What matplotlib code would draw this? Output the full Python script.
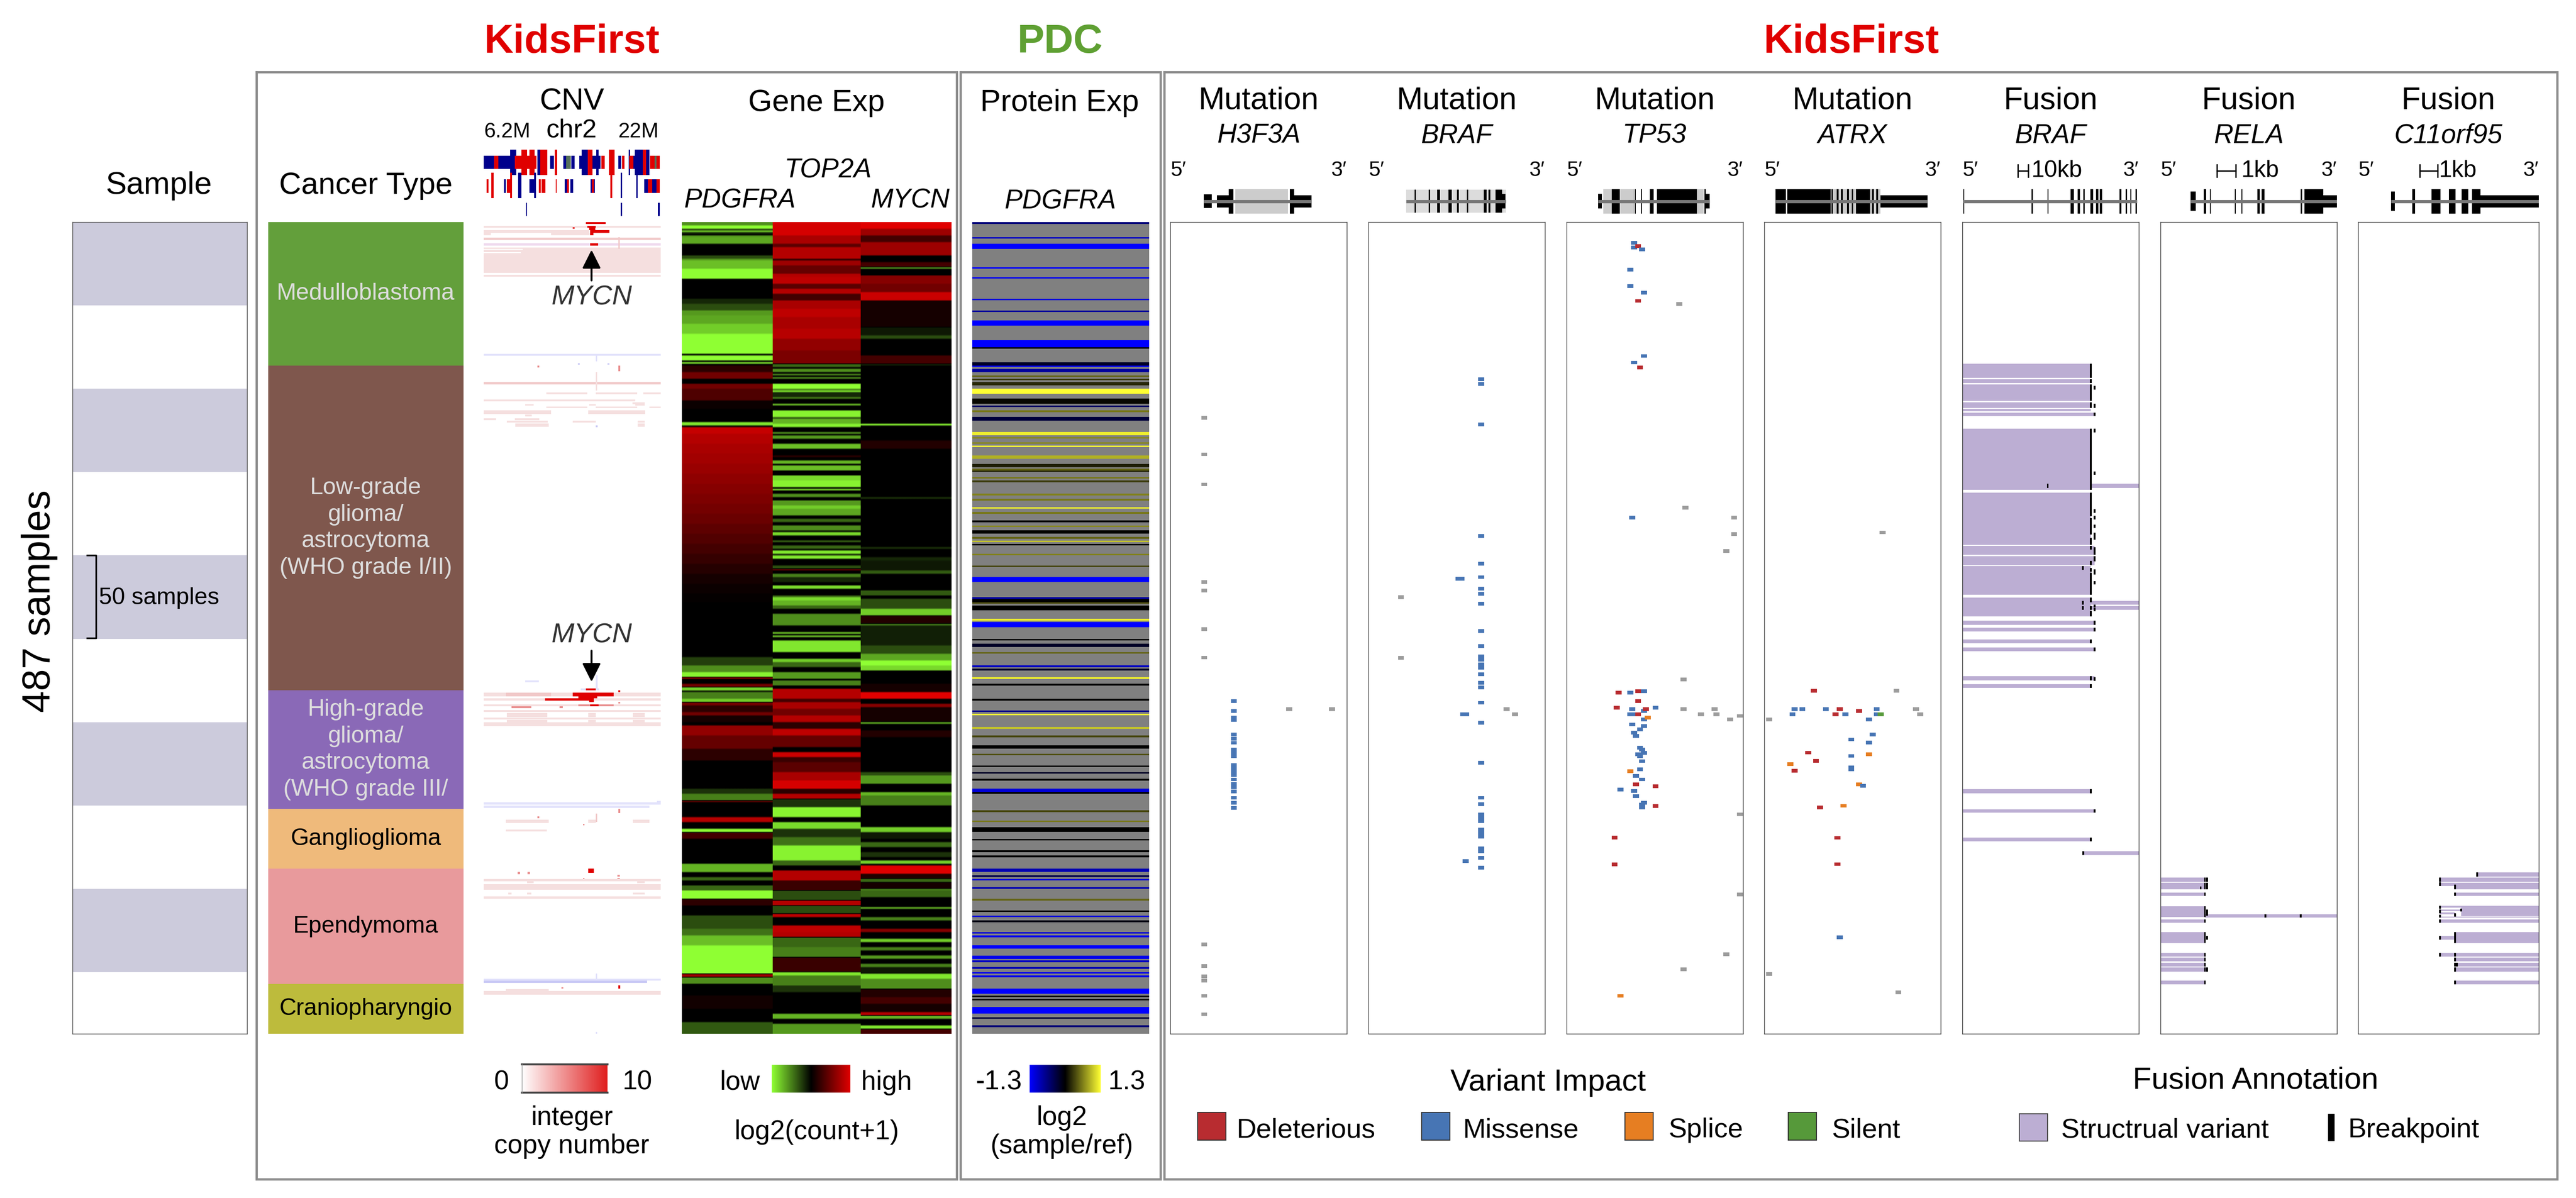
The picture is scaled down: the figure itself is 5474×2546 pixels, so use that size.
import numpy as np
import matplotlib
matplotlib.use('Agg')
import matplotlib.pyplot as plt
from matplotlib.colors import LinearSegmentedColormap

plt.rcParams['font.family'] = ['Liberation Sans', 'DejaVu Sans']

W, H = 5474, 2546
TOP, BOT = 472, 2197
N = 487

# ---- annotation tracks ----
cancer_types = ['Medulloblastoma', 'Low-grade\nglioma/\nastrocytoma\n(WHO grade I/II)',
                'High-grade\nglioma/\nastrocytoma\n(WHO grade III/', 'Ganglioglioma',
                'Ependymoma', 'Craniopharyngio']
cancer_counts = [86, 195, 71, 36, 69, 30]
cancer_colors = ['#639f3b', '#7f574d', '#8a69b7', '#efba7b', '#e89a9c', '#bdbb3c']
cancer_text = ['#dddddd', '#dddddd', '#dddddd', 'black', 'black', 'black']
sample_bands = [0, 100, 200, 300, 400]

# ---- gene expression, runs of (last row, value), -1 green .. 1 red ----
pdgfra_exp = [(2, -.55), (4, -1), (5, -.2), (6, -.8), (7, -.15), (8, 0), (9, -.6), (13, -.65), (20, 0),
              (22, -.3), (23, -.6), (28, -.75), (34, -1), (46, 0), (49, -.15), (53, -.3), (56, -.6), (61, -.65),
              (67, -.8), (79, -1), (80, 0), (83, -1), (84, 0), (85, -.9), (86, 0), (90, .2), (94, .5), (97, 0),
              (100, .5), (107, .35), (112, .05), (120, 0), (122, -.9), (123, 0), (127, .88), (133, .8), (139, .75),
              (145, .72), (151, .68), (157, .64), (163, .6), (169, .56), (175, .52), (181, .47), (187, .42),
              (193, .36), (199, .3), (205, .24), (211, .17), (217, .1), (223, .05), (228, .02), (261, 0),
              (266, -.25), (270, -.55), (273, -.95), (274, .7), (277, 0), (279, .5), (281, -.8), (282, -.1),
              (286, -.5), (288, -.8), (290, .5), (294, .2), (296, .5), (300, .1), (302, 0), (308, .65), (316, .45),
              (323, .2), (340, 0), (343, -.2), (347, -.5), (348, .4), (357, 0), (360, .8), (364, 0), (366, -1),
              (370, .3), (385, 0), (390, -.7), (393, 0), (395, -.4), (398, 0), (401, -.4), (406, -1), (410, .2),
              (416, 0), (424, -.3), (428, -.45), (434, -.75), (451, -1), (453, .7), (457, -.55), (464, 0),
              (472, .08), (480, 0), (487, -.35)]
top2a_exp = [(8, .95), (13, .75), (15, .4), (22, .8), (23, .2), (26, .7), (31, .45), (33, .8), (37, .85), (40, .4),
             (43, .8), (47, .3), (52, .75), (57, .85), (64, .75), (70, .82), (77, .65), (85, .55),
             (87, -.4), (88, 0), (90, -.55), (91, 0), (92, -.5), (93, 0), (94, -.55), (97, 0), (100, -1), (101, -.5),
             (102, -.85), (105, -.15), (106, -.5), (109, 0), (110, -.75), (113, 0), (117, -.95), (118, -.3), (121, -.7),
             (123, -.95), (126, 0), (127, -.6), (128, 0), (130, -.6), (133, 0), (136, -.75), (140, 0), (141, .2),
             (143, 0), (145, -.7), (146, 0), (149, -.75), (152, 0), (155, -.85), (159, -.95), (160, 0), (161, -.8),
             (163, 0), (165, -.55), (167, 0), (170, -.6), (172, -.8), (176, -.65), (178, 0), (180, -.4), (182, 0),
             (185, -.55), (186, 0), (188, -.85), (191, 0), (192, -.4), (194, 0), (196, -.4), (197, 0), (199, -.9),
             (200, -.15), (202, -.9), (206, 0), (208, -.3), (209, .4), (211, 0), (213, -.5), (216, -.15), (218, 0),
             (220, -.85), (224, 0), (225, -.4), (227, -.85), (230, -.7), (232, -.4),
             (235, 0), (242, -.55), (246, 0), (247, -.8), (248, 0), (249, -.8), (251, 0), (258, -.9), (262, 0),
             (264, -.8), (267, -.4), (270, 0), (274, -.6), (275, 0), (278, -.5), (280, 0),
             (286, .8), (288, .3), (292, .75), (296, .5), (300, .8),
             (304, .2), (308, .85), (315, .45), (318, 0), (321, .9), (324, .25), (330, .4), (335, .75), (340, .95),
             (343, .2), (346, .8), (351, -.2), (357, -.95), (360, 0), (364, -.85), (369, -.2), (374, -.45),
             (383, -.95), (386, -.4), (389, 0), (395, .8), (401, .25), (407, -.3), (410, .8), (415, -.3), (417, .85),
             (422, 0), (426, .85), (429, .8), (435, -.4), (441, -.5), (450, .25), (452, -.9), (458, -.5), (462, -.2),
             (475, 0), (478, -.7), (481, 0), (487, -.6)]
mycn_exp = [(4, 1), (8, .7), (12, .3), (20, .7), (24, 0), (27, .3), (28, -.6), (32, 0), (37, .6), (42, .5), (47, .9),
            (63, .1), (68, -.1), (70, -.3), (80, 0), (85, .3), (86, -.15), (121, 0), (122, -1), (131, 0), (136, .15),
            (165, 0), (166, -.2), (195, 0), (196, -.2), (201, 0), (203, -.15), (209, -.1), (211, -.35), (221, 0),
            (224, -.35), (226, 0), (232, -.3), (236, -.8), (241, .15), (242, -.5), (254, -.12), (259, -.3),
            (263, -.65), (266, -1), (269, -.85), (277, 0), (282, .1), (286, 1), (289, 0), (291, .6), (300, .1),
            (301, -.7), (305, 0), (309, .15), (330, 0), (332, -.3), (337, -.6), (342, 0), (344, -.7), (350, -.5),
            (363, 0), (366, -.8), (370, -.1), (372, 0), (375, -.4), (378, 0), (381, -.2), (383, 0), (385, -.8),
            (386, 0), (391, 1), (394, .15), (396, -.4), (400, .1), (401, -.5), (405, -.4), (411, 0), (412, -.7),
            (417, 0), (419, -.5), (424, 0), (426, .6), (430, 0), (432, -.8), (435, 0), (437, -.5), (440, 0),
            (442, -.6), (445, 0), (447, -.5), (451, -.1), (454, -.9), (460, -.55), (465, .15), (469, .3), (474, .1),
            (476, .8), (478, -.7), (482, 0), (484, -.9), (487, .3)]

# ---- protein, stripes (row, rows thick, log2 ratio), all else is not available ----
pdgfra_prot = [(0, 1, -.6), (9, 1, -1), (13, 3, -1.3), (27, 1, -1.3), (33, 1, -1.2), (46, 1, -1.1), (53, 1, -.8),
               (59, 3, -1.3), (71, 4, -1.3), (75, 1, 0), (84, 2, -.2), (86, 1, -1.2), (88, 2, -.8), (92, 1, .5),
               (94, 1, .3), (96, 2, .2), (100, 3, 1.3), (106, 3, .05), (110, 1, -.5), (113, 1, .6), (117, 2, -.3),
               (126, 2, 1.2), (129, 1, .7), (132, 1, .7), (134, 1, 1.3), (140, 2, .9), (145, 2, .15), (148, 1, .5),
               (149, 1, .2), (153, 1, .6), (155, 1, .3), (163, 1, .65), (166, 1, .6), (171, 1, 1.2), (174, 1, .6),
               (179, 1, 0), (182, 1, .7), (185, 2, 0), (189, 1, .5), (191, 1, 1), (193, 1, 0), (199, 1, .65),
               (206, 1, .35), (213, 3, -1.3), (225, 1, -.8), (226, 2, 0), (228, 1, .4), (230, 3, 0), (238, 1, 1.2),
               (240, 3, -1.3), (250, 1, 0), (253, 2, -.2), (258, 1, .5), (266, 1, -1), (268, 1, -.2), (273, 1, 1.2),
               (277, 1, 0), (286, 1, 0), (293, 1, -.7), (295, 1, 1.3), (303, 1, 1), (308, 1, .35), (314, 2, 0),
               (319, 1, .4), (326, 1, 0), (330, 1, -.2), (334, 1, 0), (340, 2, -1.1), (342, 1, 0), (353, 1, .35),
               (359, 1, .6), (363, 3, 0), (370, 1, 0), (377, 1, 0), (380, 1, 0), (388, 2, -.9), (392, 1, -.4),
               (394, 1, -1.1), (399, 1, -.9), (406, 1, .5), (413, 1, 0), (416, 1, -1.1), (419, 1, -.1), (426, 1, -1.1),
               (428, 1, -1.2), (434, 2, -1.3), (440, 2, -1.2), (443, 1, -1), (447, 1, -.9), (450, 1, -1.2),
               (452, 1, -1.2), (460, 3, -1.3), (464, 1, 0), (466, 1, 0), (471, 4, -1.3), (477, 1, -.3), (482, 1, -.6)]

# ---- CNV segments (row, rows thick, start %, end %, level) ----
cnv_colors = {'p': '#f5dfdf', 'd': '#f1c9c9', 'r': '#e00000', 'l': '#e2e2fb', 'm': '#efd9ee', 'w': 'white',
              's': '#e98f8f', 'b': '#c9c9f5'}
cnv_segments = [
    (0, 1, 57.8, 68.8, 'r'), (2.3, 1.2, 0, 100, 'p'), (2.3, 1.2, 58.6, 63.2, 'r'), (3.5, 1.4, 59.5, 63, 'r'),
    (4.9, 1.5, 0, 59.5, 'p'), (4.9, 1.5, 60, 71.1, 'r'), (6.4, 1.4, 0, 4, 'p'), (6.4, 1.4, 38, 60, 'p'),
    (6.4, 1.4, 60, 62, 'r'), (9.4, 1.4, 0, 100, 'd'), (12.8, 1.4, 0, 100, 'm'), (12.8, 1.4, 60, 64.6, 'r'),
    (15.3, 9, 0, 100, 'p'), (16, .7, 0, 22, 'w'), (18, .7, 0, 21, 'w'), (24.3, 6.2, 0, 100, 'p'),
    (31.6, 1.2, 0, 100, 'p'), (9, 7, 76, 76.8, 'd'), (3, 1, 50.2, 51.4, 'r'),
    (79, 1.2, 0, 100, 'l'), (80, 3.5, 63.2, 64, 'l'), (86, 1.3, 30.2, 31.4, 's'), (84.6, 1, 53.3, 54.2, 'b'),
    (84.6, 1, 70, 71, 'b'), (86, 3.5, 76, 77, 's'), (96, 1.5, 0, 100, 'd'), (90, 11, 63.2, 64, 'p'),
    (102.2, 1, 35.3, 58.6, 'p'), (102.2, 1, 63.2, 86.6, 'p'), (102.2, 1, 90.1, 100, 'p'), (106.5, 1, 0, 85.6, 'p'),
    (108, 1.3, 84, 91, 'p'), (109.2, 1, 23.5, 28.2, 'p'), (109.2, 1, 59.5, 63.2, 'p'), (109.2, 1, 85.6, 90.9, 'p'),
    (110.6, 1, 35.3, 58.6, 'p'), (110.6, 1, 63.2, 86.6, 'p'), (110.6, 1, 93.5, 100, 'p'), (113, 2.2, 0, 38, 'p'),
    (113, 2.2, 59.1, 91.2, 'p'), (115.5, 1.2, 23.5, 27, 'p'), (117.8, 1, 0, 7, 'p'), (117.8, 1, 17.5, 31.5, 'p'),
    (119.2, 1.2, 12.9, 36.2, 'p'), (119.2, 1.2, 50.2, 63.2, 'p'), (119.2, 1.2, 87.1, 91, 'p'),
    (120.8, 2, 17.9, 36.8, 'p'), (120.8, 2, 87.1, 90.9, 'p'), (122, 1, 63.4, 64.4, 'b'),
    (275, 1, 23.5, 31.2, 'l'), (272, 8, 63.2, 64.4, 'l'), (279.8, 1.2, 54.9, 65.1, 'l'), (279.8, 1.2, 57.8, 63.2, 'r'),
    (281, 1, 76, 77.2, 'r'), (282.2, 2.4, 0, 100, 'p'), (282.2, 2.4, 12.5, 38, 'd'), (282.2, 2.4, 50.2, 73.5, 'r'),
    (284.7, 1.3, 53.5, 64.2, 'r'), (285.8, 1.2, 0, 100, 'p'), (285.8, 1.2, 34.5, 60, 'r'), (285, 3, 59.5, 62.3, 'r'),
    (288, .9, 76, 77.2, 's'), (289.4, 1.1, 0, 100, 'p'), (289.4, 1.1, 53.5, 73.5, 's'), (289.4, 1.1, 60, 65, 'r'),
    (290.6, 1, 15.7, 26.9, 's'), (290.6, 1, 42.7, 44.6, 's'), (292.8, 1.2, 0, 100, 'p'), (294.5, 2.5, 12.9, 35.8, 'p'),
    (294.5, 2.5, 59.1, 63.2, 'p'), (294.5, 2.5, 84.3, 91, 'p'), (297.2, 1.2, 0, 100, 'p'), (298.6, 1.5, 12.9, 35.8, 'p'),
    (298.6, 1.5, 59.1, 63.2, 'p'), (298.6, 1.5, 84.3, 91, 'p'), (300, 2.3, 0, 100, 'p'),
    (348, 1.4, 0, 100, 'l'), (347.2, 1.4, 98, 100, 'l'), (350.2, 1.2, 0, 93.5, 'l'), (352, 2.5, 76, 77, 's'),
    (358.5, 2, 12.5, 36.8, 'p'), (358.5, 2, 59.1, 63.2, 'p'), (358.5, 2, 84.3, 93.5, 'p'), (355, 5, 63.2, 64, 'd'),
    (364.5, 1, 12.5, 35.6, 'p'), (356.5, 1.2, 30.2, 31.4, 's'), (361, 1, 56, 57, 's'),
    (388, 2.5, 59.1, 62.3, 'r'), (390, 1.2, 19.2, 20.4, 's'), (390, 1.2, 24.8, 26, 's'), (391.5, 1.2, 75.5, 76.8, 's'),
    (393.5, 1.2, 75.5, 76.8, 's'), (393.5, 1, 56, 57, 's'), (394.2, 1.2, 0, 100, 'p'), (395.5, 1.2, 24.6, 28.2, 'p'),
    (395.5, 1.2, 86.6, 91, 'p'), (397.2, 3.5, 0, 100, 'p'), (402.2, 1.2, 13.8, 15.8, 'p'), (402.2, 1.2, 24.6, 26.9, 'p'),
    (402.2, 1.2, 84.3, 91, 'p'), (404.7, 1.2, 0, 100, 'p'),
    (451, 3, 63.2, 64.2, 'l'), (454, 1, 0, 100, 'l'), (455, 1.6, 0, 92.2, 'b'), (458, 1.8, 76, 77, 'r'),
    (459, 1, 44, 45, 's'), (460.2, 1.2, 12.5, 36.8, 'p'), (461.2, 2.5, 0, 100, 'p'), (486, 1, 63.2, 64.2, 'l')]

# chr2 strip above the CNV map (start %, end %, tier top, tier bottom, colour)
chr2_tracks = [
    (0, 5.8, 9, 29, 'B'), (5.8, 8.3, 9, 29, 'R'), (8.3, 15, 9, 29, 'B'), (15, 18.5, 0, 38, 'B'), (17.7, 30, 9, 29, 'R'),
    (21.5, 24.7, 0, 38, 'R'), (26, 29, 0, 38, 'R'), (30.4, 33.7, 0, 38, 'B'), (32, 36, 0, 38, 'R'), (37.7, 39.8, 9, 29, 'B'),
    (40.4, 41.7, 0, 38, 'R'), (45.2, 46.7, 9, 29, 'B'), (46.7, 49.4, 9, 29, 'G'), (49.8, 51.7, 9, 29, 'B'),
    (54.2, 59.2, 9, 29, 'B'), (55.5, 59.2, 0, 38, 'B'), (59.2, 61.7, 0, 38, 'R'), (61.7, 66.2, 9, 29, 'B'),
    (64, 65.2, 0, 38, 'B'), (66.8, 68.7, 9, 29, 'R'), (71, 74.3, 0, 38, 'R'), (76.4, 78.1, 9, 29, 'B'), (78.5, 80, 9, 29, 'R'),
    (82.3, 83.2, 0, 38, 'B'), (82.5, 85, 9, 29, 'R'), (85, 90.4, 9, 29, 'B'), (85.7, 94.2, 0, 38, 'B'), (90.4, 92.3, 0, 38, 'R'),
    (94.5, 97, 9, 29, 'R'), (97, 98, 9, 29, 'G'), (98, 100, 9, 29, 'R'),
    (1.5, 2.7, 45, 65, 'R'), (11.5, 12.7, 45, 65, 'B'), (13, 15, 45, 65, 'R'), (26, 28.5, 45, 65, 'B'), (28.5, 29.7, 45, 65, 'R'),
    (31.2, 32.3, 45, 65, 'R'), (33, 35, 45, 65, 'R'), (40.8, 41.5, 45, 65, 'R'), (46, 47.3, 45, 65, 'B'), (47.3, 48.3, 45, 65, 'R'),
    (49.2, 50.7, 45, 65, 'B'), (60.8, 63, 45, 65, 'B'), (61.5, 62.5, 45, 65, 'R'), (91.3, 93.2, 45, 65, 'B'), (93.2, 95.6, 45, 65, 'R'),
    (95.6, 98, 45, 65, 'B'), (98, 100, 45, 65, 'R'),
    (4.2, 5.7, 35, 73, 'R'), (15, 16, 35, 73, 'R'), (19.4, 21.5, 35, 73, 'B'), (28.5, 29.6, 35, 73, 'B'), (71.9, 73, 35, 73, 'R'),
    (77.7, 78.7, 35, 73, 'B'), (86.6, 87.5, 35, 73, 'B'), (24, 24.7, 80, 100, 'B'), (77.7, 78.7, 80, 100, 'B'), (98.9, 100, 80, 100, 'B')]

# ---- mutations (row, gene position %, class) ----
h3f3a_mut = [(117.4, 19.2, 'n'), (139.3, 19.2, 'n'), (157.4, 19.2, 'n'), (216, 19.2, 'n'), (221, 19.2, 'n'), (244.3, 19.2, 'n'), (261.3, 19.2, 'n'),
             (287.4, 36, 'm'), (293.4, 36, 'm'), (297.3, 36, 'm'), (298.6, 36, 'm'), (307.5, 36, 'm'), (310, 36, 'm'),
             (312.4, 36, 'm'), (316.4, 36, 'm'), (318.4, 36, 'm'), (320.5, 36, 'm'), (325.7, 36, 'm'), (327.8, 36, 'm'),
             (329.7, 36, 'm'), (331.8, 36, 'm'), (334.4, 36, 'm'), (337.2, 36, 'm'), (339.1, 36, 'm'), (341.5, 36, 'm'),
             (345.4, 36, 'm'), (348.3, 36, 'm'), (351.4, 36, 'm'), (292.3, 67.3, 'n'), (292.3, 91.6, 'n'),
             (433.4, 19.2, 'n'), (446.3, 19.2, 'n'), (452.5, 19.2, 'n'), (455, 19.2, 'n'), (464.3, 19.2, 'n'), (475.3, 19.2, 'n')]
braf_mut = [(94.4, 63.9, 'm'), (97.2, 63.9, 'm'), (121.3, 63.9, 'm'), (188.2, 63.9, 'm'), (204.9, 63.9, 'm'),
            (213, 63.9, 'm'), (214, 51, 'm'), (214, 52.8, 'm'), (220, 63.9, 'm'), (223, 63.9, 'm'), (225, 18.4, 'n'), (229, 63.9, 'm'), (245.3, 63.9, 'm'),
            (254.4, 63.9, 'm'), (260.5, 63.9, 'm'), (262.6, 63.9, 'm'), (265.4, 63.9, 'm'), (267.5, 63.9, 'm'), (271.4, 63.9, 'm'),
            (276.4, 63.9, 'm'), (279.3, 63.9, 'm'), (288.4, 63.9, 'm'), (295.4, 53.6, 'm'), (295.4, 55.4, 'm'), (300.4, 63.9, 'm'),
            (324.4, 63.9, 'm'), (345.4, 63.9, 'm'), (349.3, 63.9, 'm'), (355.3, 63.9, 'm'), (357.2, 63.9, 'm'), (359.4, 63.9, 'm'),
            (364.5, 63.9, 'm'), (366.6, 63.9, 'm'), (368.6, 63.9, 'm'), (375.6, 63.9, 'm'), (377.5, 63.9, 'm'), (381.4, 63.9, 'm'),
            (383.3, 55, 'm'), (387.4, 63.9, 'm'), (261.5, 18.4, 'n'), (292.3, 78.3, 'n'), (295.4, 83, 'n')]
tp53_mut = [(12.4, 38.3, 'm'), (15.2, 38.3, 'm'), (14.4, 40.5, 'd'), (16.4, 42.7, 'm'), (28.5, 36.1, 'm'), (38.4, 36.1, 'm'),
            (42.3, 43.8, 'm'), (47.3, 40.5, 'd'), (49.2, 63.9, 'n'), (80.3, 43.8, 'm'), (84.3, 38.3, 'm'), (87.3, 41.6, 'd'),
            (171.4, 67.3, 'n'), (177.3, 37.2, 'm'), (177.3, 94.9, 'n'), (187.2, 94.9, 'n'), (197.3, 90.5, 'n'), (274.5, 66.2, 'n'),
            (282.4, 29.4, 'd'), (282.4, 36.1, 'm'), (281.4, 43.8, 'm'), (281.4, 40.5, 'd'), (287.4, 40.5, 'd'), (291.3, 28.3, 'd'),
            (292.3, 37.2, 'm'), (293.3, 43.8, 'm'), (292.3, 44.9, 'd'), (291.3, 50.4, 'm'), (292.3, 66.2, 'n'), (292.3, 83.8, 'n'),
            (295.4, 36.1, 'm'), (295.4, 37.2, 'm'), (295.4, 40.5, 'd'), (295.4, 76.1, 'n'), (295.4, 85, 'n'), (298.3, 43.8, 'm'),
            (297.3, 46, 's'), (298.3, 92.7, 'n'), (296.3, 98.2, 'n'), (301.4, 37.2, 'm'), (302.3, 43.8, 'm'), (304.4, 41.6, 'm'),
            (306.4, 38.3, 'm'), (308.3, 39.4, 'm'), (315.4, 41.6, 'm'), (316.4, 42.7, 'm'), (318.4, 43.8, 'm'), (319.3, 40.5, 'm'),
            (320.5, 41.6, 'm'), (323.4, 42.7, 'm'), (328.4, 41.6, 'm'), (329.4, 36.1, 's'), (332.3, 39.4, 'm'), (334.4, 42.7, 'm'),
            (337.3, 39.4, 'd'), (338.5, 50.4, 'd'), (340.4, 30.5, 'm'), (341.4, 38.3, 'm'), (344.4, 39.4, 'm'), (348.3, 43.8, 'm'),
            (349.5, 42.7, 'm'), (351.3, 42.7, 'm'), (350.4, 50.4, 'd'), (355.3, 98.2, 'n'), (369.2, 27.2, 'd'), (385.4, 27.2, 'd'),
            (403.4, 98.2, 'n'), (439.4, 90.5, 'n'), (448.3, 66.2, 'n'), (464.3, 30.5, 's')]
atrx_mut = [(186.2, 67.1, 'n'), (281.3, 28.2, 'd'), (281.3, 74.9, 'n'), (292.3, 17.2, 'm'), (292.3, 21.6, 'm'), (292.3, 34.9, 'm'),
            (292.3, 42.7, 'd'), (292.3, 63.7, 'm'), (292.3, 86, 'n'), (293.3, 53.8, 'd'), (295.3, 16, 'm'), (295.3, 40.4, 'd'),
            (295.3, 46, 'm'), (295.3, 63.7, 'm'), (295.3, 66, 'x'), (295.3, 88.3, 'n'), (298.3, 2.7, 'n'), (298.3, 59.3, 'm'),
            (307.4, 61.5, 'm'), (310.4, 49.3, 'm'), (312.3, 59.3, 'm'), (318.3, 24.9, 'd'), (319.3, 59.3, 's'), (320.3, 49.3, 'm'),
            (323.2, 29.3, 'd'), (325.2, 14.8, 's'), (327.2, 49.3, 'm'), (328.4, 49.3, 'm'), (329.2, 17.1, 'd'), (337.3, 53.8, 's'),
            (338.3, 56, 'm'), (350.2, 44.9, 's'), (351.1, 31.6, 'd'), (369.4, 41.5, 'd'), (385.2, 41.5, 'd'), (429.2, 42.7, 'm'),
            (451.1, 2.7, 'n'), (462.2, 76, 'n')]
impact_colors = {'d': '#b82c30', 'm': '#4775b4', 's': '#e67e22', 'x': '#56993a', 'n': '#9c9c9c'}

# ---- fusions (first row, last row, start %, end %) and breakpoints (first row, last row, %) ----
braf_bars = [(85, 93.4, 0, 72.8), (94.2, 96.6, 0, 72.8), (97.4, 107.3, 0, 72.8), (108.2, 111.4, 0, 72.8), (112, 113.4, 0, 72.8),
             (114.4, 116.4, 0, 75), (124, 160.6, 0, 72.8), (157, 159.6, 72.8, 100), (162.3, 193.8, 0, 72.8), (194.3, 199.7, 0, 75),
             (200.4, 205.8, 0, 75), (206.3, 223.6, 0, 72.8), (225.3, 236.6, 0, 72.8), (227.4, 229.6, 72.8, 100), (230.5, 232.6, 72.8, 100),
             (239.2, 241.6, 0, 75), (243.4, 245.6, 0, 75), (250.3, 252.6, 0, 72.8), (255.2, 257.6, 0, 75), (272.5, 275, 0, 75),
             (277.3, 279.6, 0, 72.8), (340.2, 342.6, 0, 72.8), (352.2, 354.4, 0, 75), (369.2, 371.4, 0, 72.8), (377.5, 379.6, 68.5, 100)]
braf_breaks = [(85, 93.4, 72.8), (94.2, 96.6, 72.8), (97.4, 107.3, 72.8), (108.2, 111.4, 72.8), (98.2, 100.6, 75), (109, 111.4, 75),
               (114.4, 116.4, 75), (124, 126.3, 75), (124, 160.6, 72.8), (149.5, 151.6, 75), (157, 159.6, 48.4), (162.3, 176.5, 72.8),
               (172.2, 174.6, 75), (176.2, 178.4, 75), (177.5, 187.5, 72.8), (181.4, 183.6, 75), (186.2, 190.6, 75), (189.5, 193.8, 72.8),
               (194.3, 196.5, 72.8), (195.2, 199.6, 75), (200.5, 203.6, 75), (203.4, 205.8, 72.8), (206.3, 208.6, 68.3), (207.5, 209.8, 72.8),
               (208.4, 211.4, 75), (210.3, 223.6, 72.8), (215.4, 217.5, 75), (225.3, 228, 72.8), (227.4, 229.6, 68.3), (229.6, 231.2, 75),
               (230.5, 232.6, 68.3), (230.5, 232.6, 72.8), (231.4, 233.5, 75), (233.2, 236.6, 72.8), (239.2, 241.6, 75), (243.4, 245.6, 75),
               (250.3, 252.6, 72.8), (255.2, 257.6, 75), (272.5, 275, 72.8), (273, 275.2, 75), (277.3, 279.6, 72.8), (340.2, 342.6, 72.8),
               (352.2, 354.4, 75), (369.2, 371.4, 72.8), (377.5, 379.6, 68.5)]
rela_bars = [(393.3, 395.8, 0, 25.2), (396.4, 400.4, 0, 25.2), (402.4, 404.4, 0, 25.2), (410.5, 417, 0, 25.2), (415.3, 417.3, 25.2, 100),
             (418.3, 420.3, 0, 25.2), (426, 432.5, 0, 25.2), (438.3, 440.6, 0, 25.2), (441.3, 443.6, 0, 25.2), (444.3, 446.6, 0, 25.2),
             (447.2, 449.6, 0, 26), (455.2, 457.4, 0, 25.2)]
rela_breaks = [(393.3, 395.8, 25.2), (393.3, 395.8, 26.4), (396.4, 400.4, 25.2), (396.4, 400.4, 26.4), (398.5, 400.4, 22.8), (402.4, 404.4, 25.2),
               (410.5, 417, 25.2), (412.5, 416, 26.4), (415.3, 417.3, 59.4), (415.3, 417.3, 79.4), (418.3, 420.3, 25.2), (426, 432.5, 25.2),
               (428.3, 430.5, 26.4), (438.3, 440.6, 25.2), (441.3, 443.6, 25.2), (444.3, 446.6, 25.2), (447.2, 449.6, 25.2), (447.2, 449.6, 26.4),
               (455.2, 457.4, 25.2)]
c11_bars = [(390.3, 392.7, 65.8, 100), (393.3, 395.8, 45.2, 100), (396.4, 400.4, 53.7, 100), (396.4, 398.4, 45.2, 53.7), (402.4, 404.4, 53.7, 100),
            (410.5, 416.5, 57, 100), (410.2, 411.4, 45.2, 100), (412.4, 413.4, 45.2, 57), (414.2, 415.2, 45.2, 53.7), (416.6, 417.3, 45.2, 100),
            (418.3, 420.3, 45.2, 100), (426, 432.5, 53.7, 100), (428.3, 430.4, 45.2, 53.7), (438.3, 440.6, 45.2, 100), (441.3, 443.6, 53.7, 100),
            (444.3, 446.6, 54.5, 100), (447.2, 449.6, 53.7, 100), (455.2, 457.4, 53.7, 100)]
c11_breaks = [(390.3, 392.7, 65.8), (393.3, 395.8, 45.2), (396.2, 398.4, 45.2), (397.5, 400.4, 53.7), (402.4, 404.4, 53.7), (410.2, 412, 45.2),
              (412.6, 414.8, 45.2), (411.8, 413.6, 57), (414.6, 416.8, 53.7), (415.5, 417.3, 45.2), (418.3, 420.3, 45.2), (426, 432.5, 53.7),
              (428.3, 430.4, 45.2), (438.3, 440.6, 45.2), (438.3, 440.6, 53.7), (441.3, 443.6, 53.7), (444.3, 446.6, 53.7), (444.3, 446.6, 54.7),
              (447.2, 449.6, 53.7), (455.2, 457.4, 53.7)]

# ---- gene models, exons (start %, end %, half height, colour) ----
K, L = 'black', '#cccccc'
h3f3a_model = [(19, 23.5, .55, K), (26.3, 33, .5, K), (33, 35.6, 1, K), (36.7, 66.6, 1, L), (67.7, 70.1, 1, K), (70.1, 79.9, .5, K)]
braf_model = [(21.2, 77.9, .95, '#dcdcdc'), (26, 26.8, .95, K), (34, 35, .95, K), (38.8, 40.5, .95, K), (45.2, 47.2, .95, K), (50, 51.2, .95, K),
              (55.8, 56.6, .95, K), (65.3, 67, .95, K), (68, 69, .95, K), (72, 75.6, .95, K), (75.6, 77.5, .6, K)]
tp53_model = [(17.9, 20.1, .6, K), (20.8, 25.7, 1, L), (25.7, 30, 1, K), (30, 38.3, 1, L), (38.6, 39.2, 1, K), (42, 42.6, 1, K),
              (47.1, 49.3, 1, K), (51.1, 73.9, 1, K), (73.9, 77.7, 1, L), (78, 78.8, 1, K), (79, 81, .6, K)]
atrx_model = [(6.5, 12.2, 1, K), (13.1, 37.5, 1, K), (37.5, 65.8, 1, L), (38, 39, 1, K), (41, 42, 1, K), (43.5, 44.4, 1, K), (47, 48, 1, K),
              (49.5, 50.5, 1, K), (52, 60, 1, K), (61, 62, 1, K), (63.5, 64.5, 1, K), (65.8, 92.6, .5, K)]
braf_fus_model = [(.4, 1, 1, K), (39.3, 40, 1, K), (48.2, 48.9, 1, K), (61.3, 63.1, 1, K), (65.2, 66.7, 1, K), (68.5, 69.2, 1, K), (72.6, 74, 1, K),
                  (75.6, 77, 1, K), (77.9, 79.2, 1, K), (89, 90.2, 1, K), (92.6, 93.2, 1, K), (95.2, 95.8, 1, K), (98.2, 98.8, 1, K)]
rela_model = [(17, 20, .8, K), (24.4, 25.9, 1, K), (28, 28.6, 1, K), (42, 42.6, 1, K), (45.8, 46.4, 1, K), (54.8, 56.3, 1, K), (57.4, 58.9, 1, K),
              (79.5, 80.3, 1, K), (81.5, 92.3, 1, K), (92.3, 100, .5, K)]
c11_model = [(18.3, 20.3, .8, K), (29.9, 31.4, 1, K), (40.7, 45.6, 1, K), (50.3, 53.8, 1, K), (57.3, 61, 1, K), (63.1, 67.7, 1, K), (67.7, 100, .5, K)]

panel_titles = ['Mutation', 'Mutation', 'Mutation', 'Mutation', 'Fusion', 'Fusion', 'Fusion']
panel_genes = ['H3F3A', 'BRAF', 'TP53', 'ATRX', 'BRAF', 'RELA', 'C11orf95']
panel_x = [(2487, 2862), (2908, 3283), (3329, 3704), (3749, 4124), (4170, 4545), (4591, 4966), (5011, 5395)]
panel_models = [h3f3a_model, braf_model, tp53_model, atrx_model, braf_fus_model, rela_model, c11_model]
panel_marks = [h3f3a_mut, braf_mut, tp53_mut, atrx_mut]
panel_fusions = [(braf_bars, braf_breaks), (rela_bars, rela_breaks), (c11_bars, c11_breaks)]

exp_cmap = LinearSegmentedColormap.from_list('exp', ['#8fff33', 'black', '#e00000'])
prot_cmap = LinearSegmentedColormap.from_list('prot', ['#0000ff', 'black', '#ffff33'])
prot_cmap.set_bad('#808080')
cnv_cmap = LinearSegmentedColormap.from_list('cnv', ['white', '#e01f1f'])
LILAC = '#bcaed3'


def expand(runs):
    col = np.zeros(N)
    prev = 0
    for end, v in runs:
        col[prev:end] = v
        prev = end
    return col


def add_panel(x0, x1, y0=TOP, y1=BOT):
    return fig.add_axes([x0 / W, 1 - y1 / H, (x1 - x0) / W, (y1 - y0) / H])


def sample_panel(x0, x1, xmax=100):
    ax = add_panel(x0, x1)
    ax.set_xlim(0, xmax)
    ax.set_ylim(N, 0)
    ax.set_xticks([])
    ax.set_yticks([])
    return ax


fig = plt.figure(figsize=(W / 100, H / 100), dpi=100, facecolor='white')

# sample column
ax = sample_panel(154, 525)
for s in sample_bands:
    ax.axhspan(s, s + 50, color='#cccbdc', lw=0)
for sp in ax.spines.values():
    sp.set_linewidth(1)
    sp.set_color('#444444')

# cancer type column
ax = sample_panel(570, 985)
left = 0
for name, cnt, col, tc in zip(cancer_types, cancer_counts, cancer_colors, cancer_text):
    ax.bar(50, cnt, width=100, bottom=left, color=col, lw=0)
    ax.text(50, left + cnt / 2, name, color=tc, ha='center', va='center', fontsize=36, linespacing=1.3,
            clip_on=True)
    left += cnt
ax.axis('off')

# CNV map
ax = sample_panel(1028, 1404)
for row, t, a, b, lev in cnv_segments:
    ax.barh(row + t / 2, b - a, left=a, height=t, color=cnv_colors[lev], lw=0)
ax.axis('off')

# chr2 strip
ax = add_panel(1028, 1402, 318, 459)
ax.set_xlim(0, 100)
ax.set_ylim(100, 0)
chr2_colors = {'B': '#00008c', 'R': '#e00000', 'G': '#55705a'}
for a, b, t0, t1, c in chr2_tracks:
    ax.bar((a + b) / 2, t1 - t0, width=b - a, bottom=t0, color=chr2_colors[c], lw=0)
ax.axis('off')

# gene expression
ax = sample_panel(1449, 2022, 3)
edges = [0, 193 / 191, 380 / 191, 3]
for i, runs in enumerate([pdgfra_exp, top2a_exp, mycn_exp]):
    ax.imshow(expand(runs)[:, None], cmap=exp_cmap, vmin=-1, vmax=1, aspect='auto', interpolation='bilinear',
              extent=[edges[i], edges[i + 1], N, 0])
ax.set_xlim(0, 3)
ax.set_ylim(N, 0)
ax.axis('off')

# protein
prot = np.full(N, np.nan)
for row, t, v in pdgfra_prot:
    prot[row:row + t] = v
ax = sample_panel(2066, 2442, 1)
ax.imshow(np.ma.masked_invalid(prot)[:, None], cmap=prot_cmap, vmin=-1.3, vmax=1.3, aspect='auto',
          interpolation='nearest', extent=[0, 1, N, 0])
ax.axis('off')

# gene models and mutation / fusion panels
for i, (x0, x1) in enumerate(panel_x):
    gm = add_panel(x0, x1, 395, 460)
    gm.set_xlim(0, 100)
    gm.set_ylim(-1.25, 1.25)
    first = min(e[0] for e in panel_models[i])
    last = max(e[1] for e in panel_models[i])
    gm.plot([first, last], [0, 0], color='#777777', lw=5, solid_capstyle='butt')
    for a, b, h, c in panel_models[i]:
        gm.bar((a + b) / 2, 2 * h, width=b - a, bottom=-h, color=c, lw=0)
    gm.axis('off')

    ax = sample_panel(x0, x1)
    for sp in ax.spines.values():
        sp.set_linewidth(1)
        sp.set_color('#333333')
    if i < 4:
        for row, pos, k in panel_marks[i]:
            ax.bar(pos, 2.2, width=3.4, bottom=row - 1.1, color=impact_colors[k], lw=0)
    else:
        bars, breaks = panel_fusions[i - 4]
        for r0, r1, a, b in bars:
            ax.bar((a + b) / 2, r1 - r0, width=b - a, bottom=r0, color=LILAC, lw=0)
        for r0, r1, p in breaks:
            ax.bar(p, r1 - r0, width=1.05, bottom=r0, color='black', lw=0)

# overlay for frames and text
ov = fig.add_axes([0, 0, 1, 1], zorder=10)
ov.set_xlim(0, W)
ov.set_ylim(H, 0)
ov.axis('off')

for x0, x1 in [(545, 2033), (2041, 2466), (2474, 5434)]:
    ov.plot([x0, x1, x1, x0, x0], [153, 153, 2506, 2506, 153], color='#8c8c8c', lw=3.5, solid_joinstyle='miter')

for x, s, c in [(1215, 'KidsFirst', '#e00000'), (2252, 'PDC', '#5fa033'), (3934, 'KidsFirst', '#e00000')]:
    ov.text(x, 90, s, color=c, fontsize=62, fontweight='bold', ha='center', va='center')

ov.text(337, 395, 'Sample', fontsize=48, ha='center', va='center')
ov.text(777, 395, 'Cancer Type', fontsize=47, ha='center', va='center')
ov.text(84, 1278, '487 samples', fontsize=60, rotation=90, ha='center', va='center')
ov.plot([185, 204, 204, 185], [1180, 1180, 1356, 1356], color='black', lw=2.5)
ov.text(210, 1271, '50 samples', fontsize=36, ha='left', va='center')

ov.text(1215, 216, 'CNV', fontsize=47, ha='center', va='center')
ov.text(1215, 278, 'chr2', fontsize=40, ha='center', va='center')
ov.text(1078, 281, '6.2M', fontsize=32, ha='center', va='center')
ov.text(1357, 281, '22M', fontsize=32, ha='center', va='center')
ov.text(1735, 219, 'Gene Exp', fontsize=47, ha='center', va='center')
ov.text(2252, 219, 'Protein Exp', fontsize=47, ha='center', va='center')
for x, y, s in [(1760, 363, 'TOP2A'), (1572, 427, 'PDGFRA'), (1934, 427, 'MYCN'), (2253, 428, 'PDGFRA')]:
    ov.text(x, y, s, fontsize=41, style='italic', ha='center', va='center')

for tail, tip, ty in [(596, 531, 632), (1383, 1449, 1351)]:
    ov.annotate('', xy=(1257, tip), xytext=(1257, tail),
                arrowprops=dict(arrowstyle='-|>', color='black', lw=3, mutation_scale=60, shrinkA=0, shrinkB=0))
    ov.text(1257, ty, 'MYCN', fontsize=42, style='italic', color='#333333', ha='center', va='center')

for (x0, x1), t, g in zip(panel_x, panel_titles, panel_genes):
    xc = (x0 + x1) / 2
    ov.text(xc, 215, t, fontsize=48, ha='center', va='center')
    ov.text(xc, 289, g, fontsize=41, style='italic', ha='center', va='center')
    ov.text(x0 + 17, 363, '5\u2032', fontsize=32, ha='center', va='center')
    ov.text(x1 - 17, 363, '3\u2032', fontsize=32, ha='center', va='center')

for b0, b1, lx, s in [(4288, 4310, 4370, '10kb'), (4711, 4751, 4803, '1kb'), (5142, 5180, 5223, '1kb')]:
    ov.plot([b0, b1], [363, 363], color='black', lw=2)
    ov.plot([b0, b0], [350, 376], color='black', lw=2)
    ov.plot([b1, b1], [350, 376], color='black', lw=2)
    ov.text(lx, 363, s, fontsize=36, ha='center', va='center')

# colour scales
grad = np.linspace(0, 1, 256)[None, :]
for x0, x1, cm in [(1109, 1291, cnv_cmap), (1640, 1807, exp_cmap), (2188, 2339, prot_cmap)]:
    cb = add_panel(x0, x1, 2263, 2322)
    cb.imshow(grad, cmap=cm, vmin=0, vmax=1, aspect='auto')
    cb.axis('off')
ov.plot([1109, 1291], [2262, 2262], color='#444444', lw=3)
ov.plot([1109, 1291], [2322, 2322], color='#444444', lw=3)
ov.plot([1109, 1109], [2262, 2322], color='#999999', lw=1)

for x, s in [(1066, '0'), (1354, '10'), (1572, 'low'), (1884, 'high'), (2123, '-1.3'), (2394, '1.3')]:
    ov.text(x, 2301, s, fontsize=41, ha='center', va='center')
ov.text(1215, 2406, 'integer\ncopy number', fontsize=41, ha='center', va='center', linespacing=1.15)
ov.text(1735, 2406, 'log2(count+1)', fontsize=41, ha='center', va='center')
ov.text(2256, 2406, 'log2\n(sample/ref)', fontsize=41, ha='center', va='center', linespacing=1.15)

# legends
ov.text(3290, 2301, 'Variant Impact', fontsize=47, ha='center', va='center')
for x, tx, k, s in [(2545, 2627, 'd', 'Deleterious'), (3021, 3108, 'm', 'Missense'),
                    (3453, 3545, 's', 'Splice'), (3800, 3892, 'x', 'Silent')]:
    ov.bar(x + 30, 59, width=60, bottom=2364, color=impact_colors[k], edgecolor='#333333', lw=1.5)
    ov.text(tx, 2402, s, fontsize=42, ha='left', va='center')
ov.text(4793, 2297, 'Fusion Annotation', fontsize=47, ha='center', va='center')
ov.bar(4321, 58, width=60, bottom=2367, color=LILAC, edgecolor='#444444', lw=1.5)
ov.text(4380, 2402, 'Structrual variant', fontsize=42, ha='left', va='center')
ov.bar(4954, 58, width=14, bottom=2367, color='black', lw=0)
ov.text(4989, 2402, 'Breakpoint', fontsize=42, ha='left', va='center')
ov.set_xlim(0, W)
ov.set_ylim(H, 0)

fig.savefig('out.png', dpi=100)
